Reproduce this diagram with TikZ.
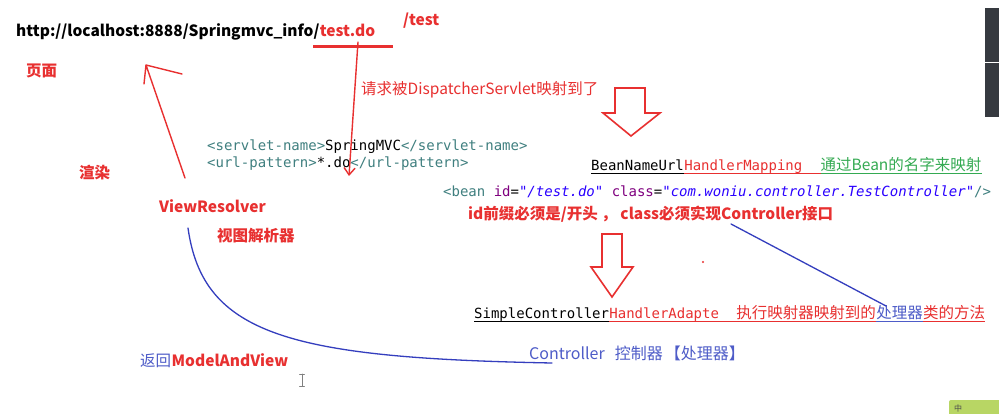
\documentclass[tikz,border=0pt]{standalone}
\usepackage{fontspec}
\setmainfont{Noto Sans CJK SC}
\setmonofont{DejaVu Sans Mono}
\usetikzlibrary{arrows.meta}
\definecolor{annot}{RGB}{232,48,48}
\definecolor{okgreen}{RGB}{52,170,82}
\definecolor{ctlblue}{RGB}{78,92,200}
\definecolor{inkblue}{RGB}{52,62,190}
\definecolor{tag}{RGB}{63,127,127}
\definecolor{attr}{RGB}{127,0,127}
\definecolor{str}{RGB}{42,0,255}
\definecolor{uibar}{RGB}{54,58,64}
\definecolor{imegreen}{RGB}{184,214,100}
\begin{document}
\begin{tikzpicture}[x=1pt, y=-1pt, line join=round, line cap=round,
	txt/.style={inner sep=0pt, anchor=base west, font=\fontsize{15.5}{18}\selectfont},
	bold/.style={txt, font=\fontsize{15.5}{18}\selectfont\bfseries},
	code/.style={inner sep=0pt, anchor=base west, font=\fontsize{14}{16}\selectfont\ttfamily},
	ul/.style={line width=1pt, line cap=butt},
	hollow/.style={draw=annot, line width=1.6pt, line join=miter},
	pen/.style={annot, line width=1.4pt},
	bluepen/.style={inkblue, line width=1.3pt}]
	\useasboundingbox[fill=white] (0,0) rectangle (999,414);
	% texte
	\node[bold] (url) at (16,37) {http://localhost:8888/Springmvc\_info/};
	\node[bold, text=annot] (tdo) at (url.base east) {test.do};
	\node[bold, text=annot] (slash) at (403,26) {/test};
	\node[bold, text=annot] (page) at (26,77) {页面};
	\node[txt, text=annot] (req) at (361,95) {请求被DispatcherServlet映射到了};
	\node[code] (srv) at (207,151) {\textcolor{tag}{<servlet-name>}SpringMVC\textcolor{tag}{</servlet-name>}};
	\node[code] (pat) at (207,168) {\textcolor{tag}{<url-pattern>}*.do\textcolor{tag}{</url-pattern>}};
	\node[bold, text=annot] (render) at (79,179) {渲染};
	\node[bold, text=annot] (vr) at (159,213) {ViewResolver};
	\node[bold, text=annot] (vrzh) at (217,242) {视图解析器};
	\node[code] (bnu) at (591,171) {BeanNameUrl};
	\node[code, text=annot] (hm) at (bnu.base east) {HandlerMapping};
	\node[txt, text=okgreen] (vb) at ([xshift=18pt]hm.base east) {通过Bean的名字来映射};
	\node[code] (bean) at (443,197) {\textcolor{tag}{<bean} \textcolor{attr}{id}=\textcolor{str}{\itshape"/test.do"} \textcolor{attr}{class}=\textcolor{str}{\itshape"com.woniu.controller.TestController"}\textcolor{tag}{/>}};
	\node[bold, text=annot] (rule) at (468,220) {id前缀必须是/开头 ， class必须实现Controller接口};
	\node[code] (sc) at (474,318) {SimpleController};
	\node[code, text=annot] (ha) at (sc.base east) {HandlerAdapte};
	\node[txt, text=annot] (exec) at ([xshift=17pt]ha.base east) {执行映射器映射到的};
	\node[txt, text=ctlblue] (proc) at (exec.base east) {处理器};
	\node[txt, text=annot] (meth) at (proc.base east) {类的方法};
	\node[txt, text=ctlblue, font=\fontsize{16}{18}\selectfont] (ctl) at (529,359) {Controller\hspace{10pt}控制器\hspace{2pt}【处理器】};
	\node[txt, text=ctlblue] (ret) at (140,366) {返回};
	\node[bold, text=annot] (mav) at (ret.base east) {ModelAndView};
	% unterstreichungen
	\foreach \a/\b/\col in {bnu/bnu/black, hm/vb/annot, vb/vb/okgreen, sc/sc/black, ha/exec/annot, exec/exec/annot, proc/proc/ctlblue, meth/meth/annot}
		\draw[ul, \col] ([yshift=-3pt]\a.base west) -- ([yshift=-3pt]\b.base east);
	\draw[annot, line width=3pt, line cap=butt] (313,47) -- (393,47);
	% pfeile
	\coordinate (reqtop) at (358,42); \coordinate (reqend) at (349,176);
	\draw[pen, -{Straight Barb[length=7pt,width=11pt]}] (reqtop) -- (reqend);
	\coordinate (vrtail) at (185,178); \coordinate (pagetip) at (146,65);
	\draw[pen] (vrtail) -- (pagetip) -- (182,74) (pagetip) -- (144,84);
	\draw[hollow] (615,88) -- (645,88) -- (645,113) -- (660,113) -- (631,136) -- (603,113) -- (615,113) -- cycle;
	\draw[hollow] (602,234) -- (622,234) -- (622,267) -- (633,267) -- (612,297) -- (591,267) -- (602,267) -- cycle;
	\coordinate (ifctl) at (731,224); \coordinate (procend) at (886,306);
	\draw[bluepen] (ifctl) -- (procend);
	\coordinate (vrfoot) at (188,228); \coordinate (ctlfoot) at (552,363);
	\draw[bluepen] (vrfoot) .. controls (203,335) and (290,358) .. (ctlfoot);
	% rest
	\fill[annot] (703,262) circle (1.2pt);
	\draw[gray, line width=0.8pt] (302,374) -- (302,386) (299.5,374) -- (304.5,374) (299.5,386) -- (304.5,386);
	\fill[uibar] (985,8) rectangle (999,62);
	\fill[uibar] (985,63) rectangle (999,117);
	\fill[imegreen, rounded corners=2pt] (949,400) rectangle (1003,418);
	\node[inner sep=0pt, font=\fontsize{8}{8}\selectfont, text=black!70] (ime) at (958,408) {中};
\end{tikzpicture}
\end{document}
